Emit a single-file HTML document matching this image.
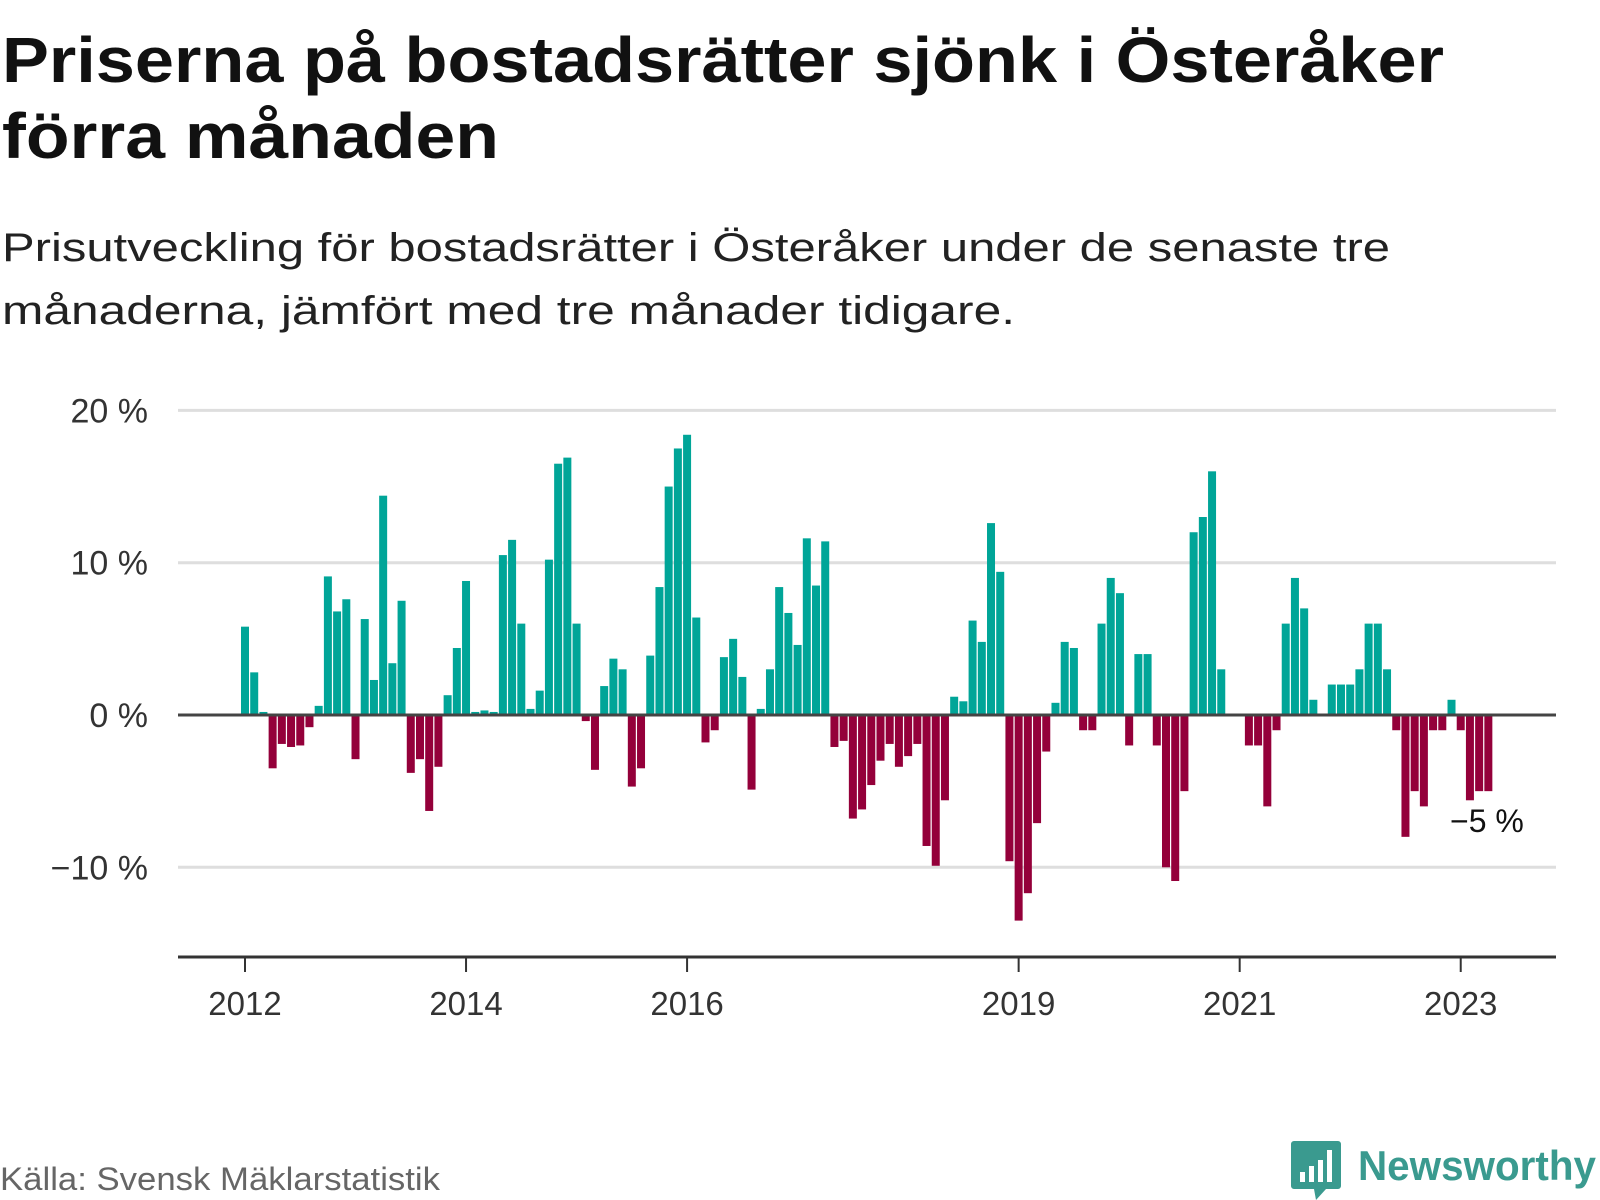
<!DOCTYPE html>
<html><head><meta charset="utf-8"><style>
html,body{margin:0;padding:0;background:#fff;}
svg{display:block;font-family:"Liberation Sans",sans-serif;}
</style></head><body>
<svg id="chart" width="1600" height="1200" viewBox="0 0 1600 1200" xmlns="http://www.w3.org/2000/svg">
<text x="2" y="82" font-size="64" font-weight="bold" fill="#111" textLength="1442" lengthAdjust="spacingAndGlyphs">Priserna på bostadsrätter sjönk i Österåker</text>
<text x="2" y="158" font-size="64" font-weight="bold" fill="#111" textLength="497" lengthAdjust="spacingAndGlyphs">förra månaden</text>
<text x="2" y="261" font-size="40" fill="#222" textLength="1388" lengthAdjust="spacingAndGlyphs">Prisutveckling för bostadsrätter i Österåker under de senaste tre</text>
<text x="2" y="324" font-size="40" fill="#222" textLength="1013" lengthAdjust="spacingAndGlyphs">månaderna, jämfört med tre månader tidigare.</text>
<g id="grid"></g>
<g id="bars"></g>
<g id="xaxis"></g>
<text x="1450" y="832" font-size="32" fill="#111">−5 %</text>
<text x="0" y="1190" font-size="32" fill="#666" textLength="440" lengthAdjust="spacingAndGlyphs">Källa: Svensk Mäklarstatistik</text>
<g>
<path d="M1294 1141 h44 a3 3 0 0 1 3 3 v42 a3 3 0 0 1 -3 3 h-12 l-10 11 l-2 -11 h-20 a3 3 0 0 1 -3 -3 v-42 a3 3 0 0 1 3 -3z" fill="#3a9a8f"/>
<rect x="1300" y="1172" width="5" height="10" fill="#fff"/><rect x="1309" y="1166" width="5" height="16" fill="#fff"/><rect x="1318" y="1160" width="5" height="22" fill="#fff"/><rect x="1327" y="1150" width="5" height="32" fill="#fff"/>
<text x="1358" y="1180" font-size="42" font-weight="bold" fill="#3a9a8f" textLength="238" lengthAdjust="spacingAndGlyphs">Newsworthy</text>
</g>
</svg>
<script>
const values = [5.8,2.8,0.2,-3.5,-1.9,-2.1,-2.0,-0.8,0.6,9.1,6.8,7.6,-2.9,6.3,2.3,14.4,3.4,7.5,-3.8,-2.9,-6.3,-3.4,1.3,4.4,8.8,0.2,0.3,0.2,10.5,11.5,6.0,0.4,1.6,10.2,16.5,16.9,6.0,-0.4,-3.6,1.9,3.7,3.0,-4.7,-3.5,3.9,8.4,15.0,17.5,18.4,6.4,-1.8,-1.0,3.8,5.0,2.5,-4.9,0.4,3.0,8.4,6.7,4.6,11.6,8.5,11.4,-2.1,-1.7,-6.8,-6.2,-4.6,-3.0,-1.9,-3.4,-2.7,-1.9,-8.6,-9.9,-5.6,1.2,0.9,6.2,4.8,12.6,9.4,-9.6,-13.5,-11.7,-7.1,-2.4,0.8,4.8,4.4,-1.0,-1.0,6.0,9.0,8.0,-2.0,4.0,4.0,-2.0,-10.0,-10.9,-5.0,12.0,13.0,16.0,3.0,0,0,-2.0,-2.0,-6.0,-1.0,6.0,9.0,7.0,1.0,0,2.0,2.0,2.0,3.0,6.0,6.0,3.0,-1.0,-8.0,-5.0,-6.0,-1.0,-1.0,1.0,-1.0,-5.6,-5.0,-5.0];
const yTicks = [20,10,0,-10];
const yTickLabels = ["20 %","10 %","0 %","−10 %"];
const xTickYears = [2012,2014,2016,2019,2021,2023];
const startYear = 2012;

const NS="http://www.w3.org/2000/svg";
const x0=245, monthW=9.21, zeroY=715, pxPer=15.23;
const xScale = m => x0 + m*monthW;
const yScale = v => zeroY - v*pxPer;
function mk(tag, attrs, parent){const e=document.createElementNS(NS,tag);for(const k in attrs)e.setAttribute(k,attrs[k]);parent.appendChild(e);return e;}
const grid=document.getElementById('grid'), bars=document.getElementById('bars'), xa=document.getElementById('xaxis');
yTicks.forEach((t,i)=>{
  if(t!==0){
    const l=mk('line',{x1:178,x2:1556,y1:yScale(t),y2:yScale(t),stroke:'#dedede','stroke-width':3},grid);
    
    
  }
  const tx=mk('text',{x:148,y:yScale(t)+12,'font-size':34,fill:'#333','text-anchor':'end'},grid);
  tx.textContent=yTickLabels[i];
  
  
});
values.forEach((v,i)=>{
  const cx=xScale(i);
  const y=v>=0?yScale(v):zeroY;
  const h=Math.abs(yScale(v)-zeroY);
  const r=mk('rect',{x:cx-4,y:y,width:8,height:h,fill:v>=0?'#00a598':'#94003a'},bars);
  
  
});
const zl=mk('line',{x1:178,x2:1556,y1:zeroY,y2:zeroY,stroke:'#444','stroke-width':3},bars);


const ax=mk('line',{x1:178,x2:1556,y1:957,y2:957,stroke:'#333','stroke-width':3},xa);


xTickYears.forEach(yr=>{
  const x=xScale((yr-startYear)*12);
  const tk=mk('line',{x1:x,x2:x,y1:957,y2:972,stroke:'#333','stroke-width':2},xa);
  
  
  const t=mk('text',{x:x,y:1015,'font-size':33,fill:'#333','text-anchor':'middle'},xa);
  t.textContent=yr;
  
  
});
</script>
</body></html>
